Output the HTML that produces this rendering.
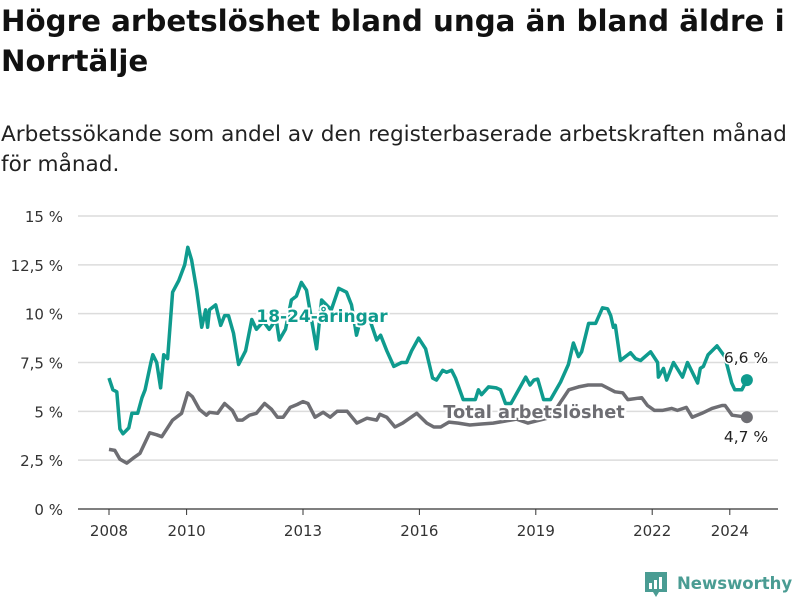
<!DOCTYPE html>
<html><head><meta charset="utf-8"><style>
body{margin:0;background:#fff;width:800px;height:600px;overflow:hidden;font-family:"DejaVu Sans",sans-serif;}
#title{position:absolute;left:1px;top:1px;font-size:29.3px;font-weight:bold;line-height:40px;color:#111;margin:0;white-space:nowrap;}
#sub{position:absolute;left:1px;top:120px;font-size:21.6px;line-height:30px;color:#222;margin:0;white-space:nowrap;}
svg{position:absolute;left:0;top:0;font-family:"DejaVu Sans",sans-serif;}
</style></head><body>
<h1 id="title">Högre arbetslöshet bland unga än bland äldre i<br>Norrtälje</h1>
<p id="sub">Arbetssökande som andel av den registerbaserade arbetskraften månad<br>för månad.</p>
<svg id="chart" width="800" height="600"></svg>
<script>
const yTicks=[0,2.5,5,7.5,10,12.5,15];
const yTickLabels=["0 %","2,5 %","5 %","7,5 %","10 %","12,5 %","15 %"];
const xTicks=[2008,2010,2013,2016,2019,2022,2024];
const youthDates=[2008.0,2008.1,2008.2,2008.28,2008.36,2008.51,2008.59,2008.74,2008.85,2008.93,2009.08,2009.13,2009.23,2009.33,2009.41,2009.51,2009.64,2009.8,2009.95,2010.03,2010.13,2010.26,2010.39,2010.49,2010.54,2010.59,2010.75,2010.88,2010.98,2011.08,2011.21,2011.34,2011.52,2011.68,2011.8,2011.98,2012.13,2012.31,2012.39,2012.55,2012.7,2012.83,2012.96,2013.09,2013.22,2013.35,2013.48,2013.73,2013.92,2014.12,2014.25,2014.38,2014.51,2014.72,2014.9,2015.0,2015.16,2015.34,2015.54,2015.67,2015.8,2015.98,2016.16,2016.34,2016.44,2016.6,2016.7,2016.83,2016.93,2017.13,2017.44,2017.52,2017.6,2017.78,2017.98,2018.09,2018.22,2018.36,2018.74,2018.85,2018.95,2019.05,2019.2,2019.38,2019.64,2019.84,2019.97,2020.1,2020.18,2020.36,2020.54,2020.72,2020.85,2020.93,2021.0,2021.05,2021.18,2021.44,2021.57,2021.7,2021.96,2022.14,2022.16,2022.29,2022.37,2022.55,2022.78,2022.91,2023.17,2023.24,2023.32,2023.44,2023.67,2023.87,2024.05,2024.13,2024.31,2024.44];
const youthValues=[6.7,6.1,6.0,4.1,3.85,4.15,4.9,4.9,5.7,6.1,7.5,7.9,7.5,6.2,7.9,7.7,11.1,11.7,12.5,13.4,12.75,11.2,9.3,10.2,9.3,10.2,10.45,9.4,9.9,9.9,9.0,7.4,8.1,9.7,9.2,9.6,9.2,9.7,8.65,9.2,10.7,10.9,11.6,11.2,9.7,8.2,10.7,10.2,11.3,11.1,10.45,8.9,9.9,9.7,8.65,8.9,8.1,7.3,7.5,7.5,8.1,8.75,8.2,6.7,6.6,7.1,7.0,7.1,6.7,5.6,5.6,6.1,5.85,6.25,6.2,6.1,5.4,5.4,6.75,6.35,6.6,6.65,5.6,5.6,6.5,7.4,8.5,7.8,8.05,9.5,9.5,10.3,10.25,9.9,9.3,9.4,7.6,8.0,7.7,7.6,8.05,7.5,6.75,7.2,6.6,7.5,6.75,7.5,6.45,7.2,7.3,7.9,8.35,7.8,6.45,6.1,6.1,6.6];
const totalDates=[2008.0,2008.15,2008.28,2008.46,2008.62,2008.8,2009.05,2009.23,2009.36,2009.64,2009.87,2010.03,2010.15,2010.33,2010.51,2010.59,2010.8,2010.98,2011.18,2011.31,2011.44,2011.62,2011.8,2012.01,2012.19,2012.34,2012.49,2012.67,2012.85,2013.0,2013.13,2013.31,2013.52,2013.7,2013.88,2014.14,2014.39,2014.65,2014.9,2014.98,2015.16,2015.37,2015.57,2015.93,2016.19,2016.37,2016.55,2016.76,2017.0,2017.3,2017.6,2017.9,2018.2,2018.5,2018.8,2019.0,2019.3,2019.55,2019.85,2020.1,2020.35,2020.7,2021.04,2021.24,2021.37,2021.73,2021.88,2022.06,2022.26,2022.5,2022.65,2022.88,2023.03,2023.28,2023.54,2023.8,2023.88,2024.06,2024.44];
const totalValues=[3.05,3.0,2.55,2.35,2.6,2.85,3.9,3.8,3.7,4.55,4.9,5.95,5.75,5.1,4.8,4.95,4.9,5.4,5.05,4.55,4.55,4.8,4.9,5.4,5.1,4.7,4.7,5.2,5.35,5.5,5.4,4.7,4.95,4.7,5.0,5.0,4.4,4.65,4.55,4.85,4.7,4.2,4.4,4.9,4.4,4.2,4.2,4.45,4.4,4.3,4.35,4.4,4.5,4.6,4.4,4.5,4.65,5.2,6.1,6.25,6.35,6.35,6.0,5.95,5.6,5.7,5.3,5.05,5.05,5.15,5.05,5.2,4.7,4.9,5.15,5.3,5.3,4.8,4.7];
const NS="http://www.w3.org/2000/svg";
const svg=document.getElementById('chart');
const X0=78,X1=778,YB=509,YT=216;
const xS=t=>109+(t-2008)*38.8;
const yS=v=>YB-(v/15)*(YB-YT);
function mk(tag,at,txt){const e=document.createElementNS(NS,tag);for(const k in at)e.setAttribute(k,at[k]);if(txt!=null)e.textContent=txt;svg.appendChild(e);return e;}
yTicks.forEach((v,i)=>{
 const l=mk('line',{x1:X0,x2:X1,y1:yS(v),y2:yS(v),stroke:i===0?'#333':'#dcdcdc','stroke-width':i===0?1.2:1.5});
 
 
 const t=mk('text',{x:63,y:yS(v)+6,'text-anchor':'end','font-size':15,fill:'#333'},yTickLabels[i]);
 
 
});
xTicks.forEach(y=>{
 const l=mk('line',{x1:xS(y),x2:xS(y),y1:YB,y2:YB+6,stroke:'#333','stroke-width':1});
 
 
 const t=mk('text',{x:xS(y),y:YB+27,'text-anchor':'middle','font-size':15,fill:'#333'},String(y));
 
 
});
function line(d,v,c,name){
 const p=d.map((t,i)=>(i?'L':'M')+xS(t).toFixed(1)+','+yS(v[i]).toFixed(1)).join('');
 const e=mk('path',{d:p,fill:'none',stroke:c,'stroke-width':3.5,'stroke-linejoin':'round'});
 
 
 const n=d.length-1;
 const c2=mk('circle',{cx:xS(d[n]),cy:yS(v[n]),r:6,fill:c});
 
 
}
line(totalDates,totalValues,'#6e6e73','total-line');
line(youthDates,youthValues,'#0f9b8e','youth-line');
function lbl(x,y,txt,c,name,size,anchor,halo){
 const at={x:x,y:y,'font-size':size,'font-weight':'bold',fill:c,'text-anchor':anchor||'start'};
 if(halo){at.stroke='#fff';at['stroke-width']=4;at['paint-order']='stroke';}
 const t=mk('text',at,txt);
 
 
}
lbl(322,322,'18-24-åringar','#0f9b8e','youth-series-label',17,'middle',true);
lbl(534,418,'Total arbetslöshet','#6e6e73','total-series-label',17.8,'middle',true);
const a=mk('text',{x:746,y:363,'font-size':15.5,fill:'#222','text-anchor':'middle',stroke:'#fff','stroke-width':3,'paint-order':'stroke'},'6,6 %');


const b=mk('text',{x:746,y:442,'font-size':15.5,fill:'#222','text-anchor':'middle'},'4,7 %');


const g=mk('g',{});


const r=document.createElementNS(NS,'path');r.setAttribute('d','M645,572h22v20h-8l-3,5l-3,-5h-8z');r.setAttribute('fill','#4a9c93');g.appendChild(r);
[[649,583,3,6],[654,580,3,9],[659,577,3,12]].forEach(q=>{const e=document.createElementNS(NS,'rect');e.setAttribute('x',q[0]);e.setAttribute('y',q[1]);e.setAttribute('width',q[2]);e.setAttribute('height',q[3]);e.setAttribute('fill','#fff');g.appendChild(e);});
const tt=document.createElementNS(NS,'text');tt.setAttribute('x',677);tt.setAttribute('y',589);tt.setAttribute('font-size',16.5);tt.setAttribute('font-weight','bold');tt.setAttribute('fill','#4a9c93');tt.textContent='Newsworthy';g.appendChild(tt);
</script>
</body></html>
